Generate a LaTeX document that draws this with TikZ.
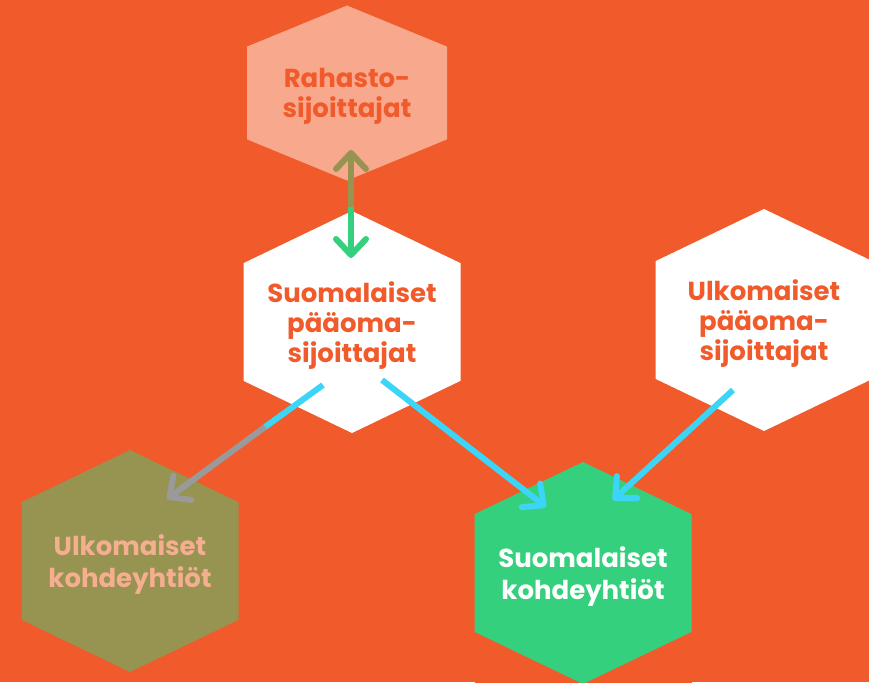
\documentclass[tikz,border=0pt]{standalone}
\usepackage{fontspec}
\setmainfont{Poppins}
\usetikzlibrary{arrows.meta, positioning, calc}

\definecolor{tausta}{HTML}{F15A2A}
\definecolor{lohi}{HTML}{F7A88D}
\definecolor{lohiteksti}{HTML}{F6AE90}
\definecolor{oliivi}{HTML}{969450}
\definecolor{vihrea}{HTML}{35D07D}
\definecolor{syaani}{HTML}{3CD4F7}
\definecolor{harmaa}{HTML}{9A9A9A}

\begin{document}
\begin{tikzpicture}[x=1pt, y=-1pt, >={Straight Barb[length=16pt, width=30pt, round]},
    hexa/.style={fill=tausta, inner sep=0pt, minimum width=217pt, minimum height=222pt,
        align=center, text depth=0pt, font=\bfseries\fontsize{26}{32}\selectfont,
        path picture={\fill[#1] (path picture bounding box.north)
            -- ($(path picture bounding box.north east)!.235!(path picture bounding box.south east)$)
            -- ($(path picture bounding box.south east)!.235!(path picture bounding box.north east)$)
            -- (path picture bounding box.south)
            -- ($(path picture bounding box.south west)!.235!(path picture bounding box.north west)$)
            -- ($(path picture bounding box.north west)!.235!(path picture bounding box.south west)$)
            -- cycle;}},
    link/.style={line width=6pt, ->}]

    \fill[tausta] (0,0) rectangle (869,682);
    \useasboundingbox (0,0) rectangle (869,682);

    % kuusikulmiot
    \node (rahasto) [hexa=lohi, text=tausta, minimum width=200pt, minimum height=175pt,
        font=\bfseries\fontsize{26}{30}\selectfont] at (347,93) {Rahasto-\\sijoittajat};
    \node (suosij) [hexa=white, text=tausta, font=\bfseries\fontsize{26}{30}\selectfont]
        at (352,322) {Suomalaiset\\pääoma-\\sijoittajat};
    \node (ulkosij) [hexa=white, text=tausta, font=\bfseries\fontsize{26}{30}\selectfont]
        at (764,320) {Ulkomaiset\\pääoma-\\sijoittajat};
    \node (ulkokoh) [hexa=oliivi, text=lohiteksti] at (130,561) {Ulkomaiset\\kohdeyhtiöt};
    \node (suokoh) [hexa=vihrea, text=white] at (583,573) {Suomalaiset\\kohdeyhtiöt};

    % nuolet
    \coordinate (pysty) at ($(suosij)+(-1,-115)$);
    \coordinate (vaihto) at ($(suosij)+(-87,105)$);

    \draw[link, oliivi] (pysty) -- ($(rahasto)+(4,57)$);
    \draw[link, vihrea] (pysty) -- ($(suosij)+(-1,-64)$);
    \draw[line width=6pt, syaani] ($(suosij)+(-29,63)$) -- (vaihto);
    \draw[link, harmaa] (vaihto) -- ($(ulkokoh)+(37,-62)$);
    \draw[link, syaani] ($(suosij)+(30,58)$) -- ($(suokoh)+(-37,-66)$);
    \draw[link, syaani] ($(ulkosij)+(-31,70)$) -- ($(suokoh)+(30,-73)$);
\end{tikzpicture}
\end{document}
